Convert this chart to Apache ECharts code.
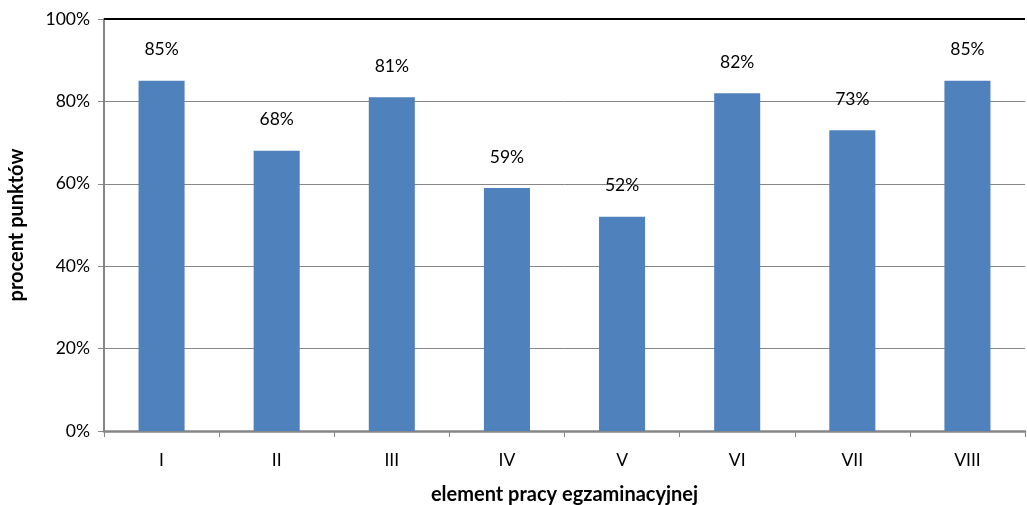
<!DOCTYPE html>
<html>
<head>
<meta charset="utf-8">
<script src="https://cdn.jsdelivr.net/npm/echarts@6/dist/echarts.min.js"></script>
<style>
  html, body { margin: 0; padding: 0; background: #fff; }
  #chart { width: 1027px; height: 505px; }
</style>
</head>
<body>
<div id="chart"></div>
<script>
// Element categories of the exam work and average share of points earned (%)
const categories = ['I', 'II', 'III', 'IV', 'V', 'VI', 'VII', 'VIII'];
const percentValues = [85, 68, 81, 59, 52, 82, 73, 85];
const yTicks = [0, 20, 40, 60, 80, 100];

const FONT = 'Lato, "Open Sans", sans-serif';

const chart = echarts.init(document.getElementById('chart'), null, { renderer: 'canvas' });

chart.setOption({
  animation: false,
  backgroundColor: '#ffffff',
  grid: { left: 104, top: 19, right: 2, bottom: 74, containLabel: false, outerBoundsMode: 'none' },
  xAxis: {
    type: 'category',
    data: categories,
    name: 'element pracy egzaminacyjnej',
    nameLocation: 'middle',
    nameGap: 54,
    nameTextStyle: { fontFamily: FONT, fontSize: 20, fontWeight: 'bold', color: '#000' },
    axisLine: { show: true, lineStyle: { color: '#868686', width: 2.5 } },
    axisTick: { show: true, alignWithLabel: false, length: 6, lineStyle: { color: '#868686', width: 1 } },
    axisLabel: { fontFamily: FONT, fontSize: 17.5, color: '#000', margin: 20 },
    splitLine: { show: false }
  },
  yAxis: {
    type: 'value',
    min: 0,
    max: 100,
    interval: 20,
    name: 'procent punktów',
    nameLocation: 'middle',
    nameGap: 77,
    nameRotate: 90,
    nameTextStyle: { fontFamily: FONT, fontSize: 20, fontWeight: 'bold', color: '#000' },
    axisLine: { show: true, lineStyle: { color: '#868686', width: 2 } },
    axisTick: { show: true, length: 6, lineStyle: { color: '#868686', width: 1 } },
    axisLabel: {
      fontFamily: FONT, fontSize: 17.5, color: '#000', margin: 14,
      formatter: v => (yTicks.includes(v) ? v + '%' : '')
    },
    splitLine: {
      show: true,
      lineStyle: { color: ['#868686', '#868686', '#868686', '#868686', '#868686', '#000000'], width: 1 }
    }
  },
  series: [{
    type: 'bar',
    data: percentValues,
    barWidth: '40%',
    itemStyle: { color: '#4F81BD' },
    label: {
      show: true,
      position: 'top',
      distance: 22,
      fontFamily: FONT,
      fontSize: 17.5,
      color: '#000',
      formatter: p => p.value + '%'
    }
  }],
  graphic: [{
    type: 'line',
    shape: { x1: 104, y1: 19, x2: 1025, y2: 19 },
    style: { stroke: '#000', lineWidth: 2 },
    z: 10
  }]
});
</script>
</body>
</html>
